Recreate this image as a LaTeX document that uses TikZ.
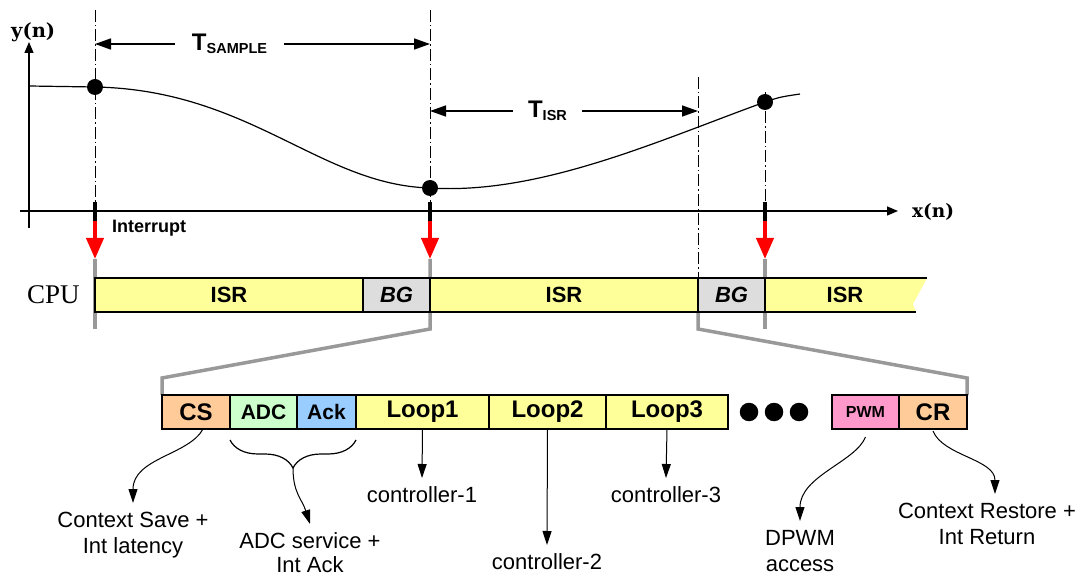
\documentclass[tikz,border=0pt]{standalone}
\usepackage{fontspec}
\setmainfont{Liberation Sans}
\newfontfamily\cpufont{Liberation Serif}
\newfontfamily\axfont{DejaVu Serif}
\usetikzlibrary{positioning,calc,arrows.meta,decorations.pathreplacing,backgrounds}

\definecolor{isryellow}{HTML}{FFFF99}
\definecolor{bggray}{HTML}{DDDDDD}
\definecolor{ctxorange}{HTML}{FFCC99}
\definecolor{adcgreen}{HTML}{CCFFCC}
\definecolor{ackblue}{HTML}{99CCFF}
\definecolor{pwmpink}{HTML}{FF99CC}
\definecolor{zoomgray}{HTML}{999999}
\newcommand\fsz[1]{\fontsize{#1}{#1}\selectfont}

\begin{document}
\begin{tikzpicture}[x=1pt,y=-1pt,
seg/.style={draw,line width=2pt,outer sep=0pt,inner sep=0pt,minimum height=34pt,font=\bfseries\fsz{22}},
box/.style={seg,font=\bfseries\fsz{24}},
spot/.style={circle,fill,inner sep=0pt,minimum size=16pt},
guide/.style={line width=1pt,dash pattern=on 12pt off 3pt on 1.5pt off 3pt},
axis/.style={line width=1.5pt,-{Triangle[length=11pt,width=9pt]}},
dimline/.style={line width=1.5pt,-{Triangle[length=16pt,width=11pt]}},
irq/.style={red,line width=4pt,-{Triangle[length=21pt,width=17pt]}},
zoomline/.style={zoomgray,line width=3.5pt},
note/.style={align=center,inner sep=0pt,outer ysep=9pt,anchor=north,font=\fontsize{22}{26}\selectfont},
notearrow/.style={line width=1pt,-{Triangle[length=14pt,width=9pt]}}]
\useasboundingbox (0,0) rectangle (1082,577);

% axes
\draw[axis] (29,228) -- (29,42);
\draw[axis] (20,211) -- (898,211);
\node[font=\axfont\bfseries\fsz{19.5},anchor=base west,inner sep=0pt] (ylab) at (11,38) {y(n)};
\node[font=\axfont\bfseries\fsz{18.5},anchor=base west,inner sep=0pt] (xlab) at (912,218) {x(n)};

% samples
\node[spot] (s1) at (95,87) {};
\node[spot] (s2) at (430,188) {};
\node[spot] (s3) at (765,102) {};
\draw[line width=1.2pt] (29,86) -- (s1.center) .. controls (250,90) and (320,185) .. (s2.center)
  .. controls (540,195) and (660,140) .. (s3.center) .. controls (780,97) .. (800,94);

% interrupts
\foreach \x/\i in {95/1,430/2,765/3}
{\coordinate (top\i) at (\x,202);
 \coordinate (mid\i) at (\x,221);
 \coordinate (tip\i) at (\x,259);
 \coordinate (low\i) at (\x,329);
 \draw[line width=4pt] (top\i) -- (mid\i);
 \draw[irq] (mid\i) -- (tip\i);
}
\node[font=\bfseries\fsz{18},anchor=base west,inner sep=0pt] (irqlab) at (112,233) {Interrupt};

% CPU time line
\node[font=\cpufont\fsz{27},anchor=base west,inner sep=0pt] (cpu) at (27,304) {CPU};
\node[seg,fill=isryellow,minimum width=268pt,anchor=west] (isr1) at (95,295) {ISR};
\node[seg,fill=bggray,minimum width=67pt,right=0pt of isr1,font=\bfseries\itshape\fsz{22}] (bg1) {BG};
\node[seg,fill=isryellow,minimum width=268pt,right=0pt of bg1] (isr2) {ISR};
\node[seg,fill=bggray,minimum width=67pt,right=0pt of isr2,font=\bfseries\itshape\fsz{22}] (bg2) {BG};
\node[seg,draw=none,minimum width=160pt,right=0pt of bg2] (isr3) {ISR};
\draw[line width=2pt] (isr3.north west) -- (927,278);
\draw[line width=2pt] (isr3.south west) -- (916,312);

% guides
\coordinate (g1) at (95,10);
\coordinate (g2) at (430,10);
\coordinate (g3) at (698,77);
\coordinate (g4) at (765,92);
\draw[guide] (g1) -- (top1);
\draw[guide] (g2) -- (top2);
\draw[guide] (g4) -- (top3);
\draw[guide] (g3) -- (bg2.north west);

% periods
\coordinate (ts1) at (95,44);
\coordinate (ts2) at (430,44);
\coordinate (ti1) at (430,111);
\coordinate (ti2) at (698,111);
\node[font=\bfseries,inner xsep=17pt,inner ysep=0pt] (tsample) at (229.5,44) {\fsz{24}T\raisebox{-3pt}{\fsz{14.5}SAMPLE}};
\node[font=\bfseries,inner xsep=15pt,inner ysep=0pt] (tisr) at (547.5,111) {\fsz{24}T\raisebox{-3pt}{\fsz{14.5}ISR}};
\draw[dimline] (tsample) -- (ts1);
\draw[dimline] (tsample) -- (ts2);
\draw[dimline] (tisr) -- (ti1);
\draw[dimline] (tisr) -- (ti2);

% ISR detail
\node[box,fill=ctxorange,minimum width=68pt,anchor=west] (cs) at (162,412) {CS};
\node[box,fill=adcgreen,minimum width=67pt,right=0pt of cs,font=\bfseries\fsz{21}] (adc) {ADC};
\node[box,fill=ackblue,minimum width=59pt,right=0pt of adc,font=\bfseries\fsz{21}] (ack) {Ack};
\node[box,fill=isryellow,minimum width=133pt,right=0pt of ack] (loop1) {Loop1};
\node[box,fill=isryellow,minimum width=117pt,right=0pt of loop1] (loop2) {Loop2};
\node[box,fill=isryellow,minimum width=122pt,right=0pt of loop2] (loop3) {Loop3};
\foreach \x/\i in {749/1,774/2,799/3}
  \node[spot,minimum size=18.5pt] (e\i) at (\x,412) {};
\node[box,fill=pwmpink,minimum width=67pt,anchor=west,font=\bfseries\fsz{16}] (pwm) at (832,412) {PWM};
\node[box,fill=ctxorange,minimum width=68pt,right=0pt of pwm] (cr) {CR};

\begin{scope}[on background layer]
\coordinate (zl1) at (162,378);
\coordinate (zl2) at (698,329);
\coordinate (zl3) at (967,378);
\draw[zoomline] (tip1) -- (low1);
\draw[zoomline] (tip3) -- (low3);
\draw[zoomline] (tip2) -- (low2) -- (zl1) -- (cs.north west);
\draw[zoomline] (bg2.south west) -- (zl2) -- (zl3) -- (cr.north east);
\fill[isryellow] (isr3.north west) -- (927,278) -- (913,304) -- (916,312) -- (isr3.south west) -- cycle;
\end{scope}

% notes
\draw[line width=1.2pt,decorate,decoration={brace,mirror,amplitude=28pt,raise=11pt}] (adc.south west) -- (ack.south east);
\coordinate (brtip) at ($(adc.south west)!0.5!(ack.south east)+(0,39)$);
\node[note] (cstxt) at (133,503) {Context Save +\\Int latency};
\node[note,font=\fontsize{22}{24}\selectfont] (adctxt) at (310,524) {ADC service +\\Int Ack};
\node[note] (c1txt) at (422,478) {controller-1};
\node[note] (c2txt) at (547,545) {controller-2};
\node[note] (c3txt) at (666,478) {controller-3};
\node[note] (pwmtxt) at (800,521) {DPWM\\access};
\node[note] (crtxt) at (987,494) {Context Restore +\\Int Return};
\draw[notearrow] ([xshift=7pt]cs.south) .. controls +(-14,26) and +(0,-45) .. (cstxt.north);
\draw[notearrow] (brtip) .. controls +(0,25) and +(-8,-25) .. (adctxt.north);
\draw[notearrow] (loop1.south) -- (c1txt.north);
\draw[notearrow] (loop2.south) -- (c2txt.north);
\draw[notearrow] (loop3.south) -- (c3txt.north);
\draw[notearrow] ([yshift=-8pt]pwm.south) .. controls +(-10,25) and +(0,-45) .. (pwmtxt.north);
\draw[notearrow] ([yshift=-2pt]cr.south) .. controls +(10,25) and +(0,-35) .. ([xshift=8pt]crtxt.north);
\end{tikzpicture}
\end{document}
